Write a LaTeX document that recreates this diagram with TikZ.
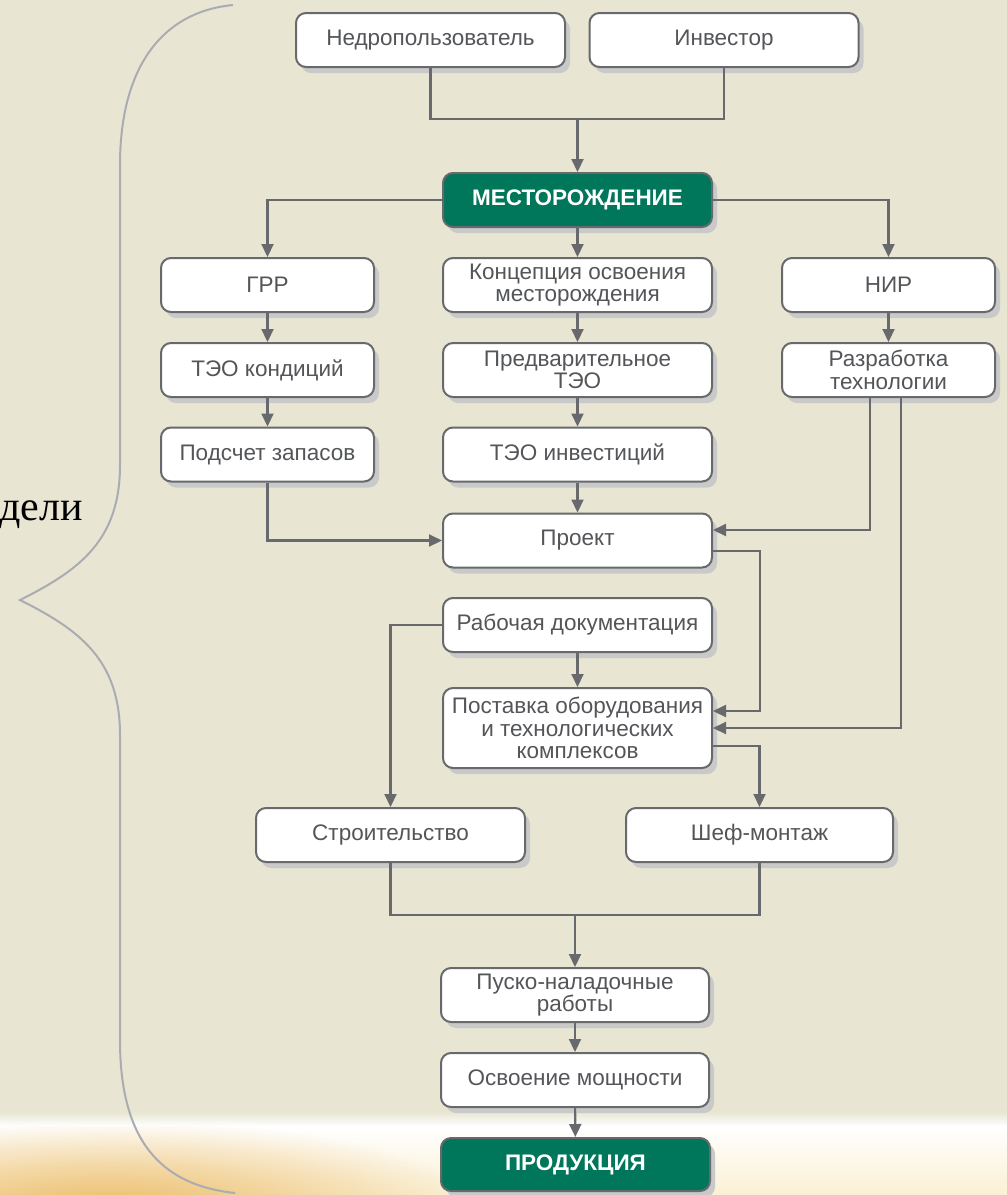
\documentclass[tikz,border=0pt]{standalone}
\usepackage{fontspec}
\setmainfont{Liberation Sans}
\newfontfamily\serifA{Liberation Serif}
\usetikzlibrary{arrows.meta,shadows,fadings}
\definecolor{bg}{RGB}{232,230,210}
\definecolor{boxline}{RGB}{104,105,108}
\definecolor{txt}{RGB}{84,85,88}
\definecolor{grn}{RGB}{0,118,90}
\definecolor{shd}{RGB}{200,201,200}
\definecolor{bracec}{RGB}{170,172,178}
\definecolor{arrc}{RGB}{104,105,108}
\definecolor{wheat}{RGB}{236,188,105}
\definecolor{cream}{RGB}{250,240,212}
\tikzfading[name=cornerfade, inner color=transparent!0, outer color=transparent!100]
\tikzset{
  box/.style={draw=boxline, line width=2pt, fill=white, rounded corners=10pt,
    minimum width=269pt, minimum height=54pt, inner sep=2pt, align=center,
    text=txt, font=\fontsize{22.5}{22.5}\selectfont,
    drop shadow={shadow xshift=5pt, shadow yshift=-6pt, fill=shd, opacity=1}},
  gbox/.style={box, fill=grn, text=white, font=\bfseries\fontsize{22.5}{22.5}\selectfont},
  conn/.style={draw=arrc, line width=2.1pt},
  arr/.style={conn, -{Triangle[length=13pt,width=12pt]}},
}
\begin{document}
\begin{tikzpicture}[x=1pt,y=-1pt]
\useasboundingbox (0,0) rectangle (1007,1195);
\fill[bg] (0,0) rectangle (1007,1195);
% bottom band
\shade[top color=bg, bottom color=white] (0,1112) rectangle (1007,1126);
\shade[top color=white, bottom color=cream] (0,1126) rectangle (1007,1195);
\begin{scope}
\clip (0,1126) rectangle (1007,1195);
\fill[wheat, path fading=cornerfade] (-260,1120) rectangle (480,1300);
\end{scope}
% brace
\draw[bracec, line width=2pt] (233,5) .. controls (160,12) and (120,70) .. (120,165)
  -- (120,465) .. controls (120,540) and (80,570) .. (20,600)
  .. controls (80,630) and (120,660) .. (120,735)
  -- (120,1040) .. controls (120,1140) and (160,1185) .. (235,1193);
\node[font=\serifA\fontsize{42}{42}\selectfont, anchor=base east, inner sep=0pt] (deli) at (83,520) {дели};
% nodes
\node[box] (nedro) at (430.5,40) {Недропользователь};
\node[box] (invest) at (724,40) {Инвестор};
\node[gbox] (mest) at (577.5,200) {МЕСТОРОЖДЕНИЕ};
\node[box, minimum width=213pt] (grr) at (267.5,285) {ГРР};
\node[box] (konc) at (577.5,285) {Концепция освоения\\месторождения};
\node[box, minimum width=213pt] (nir) at (888.5,285) {НИР};
\node[box, minimum width=213pt] (teok) at (267.5,370) {ТЭО кондиций};
\node[box] (pred) at (577.5,370) {Предварительное\\ТЭО};
\node[box, minimum width=213pt] (razr) at (888.5,370) {Разработка\\технологии};
\node[box, minimum width=213pt] (podsch) at (267.5,454.5) {Подсчет запасов};
\node[box] (teoi) at (577.5,454.5) {ТЭО инвестиций};
\node[box] (proekt) at (577.5,540.5) {Проект};
\node[box] (rabdoc) at (577.5,625) {Рабочая документация};
\node[box, minimum height=80pt] (post) at (577.5,728) {Поставка оборудования\\и технологических\\комплексов};
\node[box] (stroi) at (390.5,835) {Строительство};
\node[box, minimum width=267pt] (shef) at (759.5,835) {Шеф-монтаж};
\node[box, minimum width=268pt] (pusko) at (575,995) {Пуско-наладочные\\работы};
\node[box, minimum width=268pt] (osv) at (575,1080) {Освоение мощности};
\node[gbox, minimum height=53pt] (prod) at (575.5,1164.5) {ПРОДУКЦИЯ};
% connectors
\coordinate (j1) at (577.5,119);
\draw[conn] (nedro) |- (j1);
\draw[conn] (invest) |- (j1);
\draw[arr] (j1) -- (mest);
\draw[arr] (mest) -| (grr);
\draw[arr] (mest) -| (nir);
\draw[arr] (mest) -- (konc);
\draw[arr] (konc) -- (pred);
\draw[arr] (pred) -- (teoi);
\draw[arr] (teoi) -- (proekt);
\draw[arr] (grr) -- (teok);
\draw[arr] (teok) -- (podsch);
\draw[arr] (nir) -- (razr);
\draw[arr] (podsch) |- (proekt);
\draw[arr] ([xshift=-18.5pt]razr.south) |- ([yshift=10.5pt]proekt.east);
\draw[arr] ([xshift=12.5pt]razr.south) |- (post.east);
\draw[arr] ([yshift=-10.5pt]proekt.east) -- ++(47,0) |- ([yshift=17pt]post.east);
\draw[arr] (rabdoc) -| (stroi);
\draw[arr] (rabdoc) -- (post);
\draw[arr] ([yshift=-18pt]post.east) -| (shef);
\coordinate (j2) at (575,915);
\draw[conn] (stroi) |- (j2);
\draw[conn] (shef) |- (j2);
\draw[arr] (j2) -- (pusko);
\draw[arr] (pusko) -- (osv);
\draw[arr] (osv) -- (prod);
\end{tikzpicture}
\end{document}
